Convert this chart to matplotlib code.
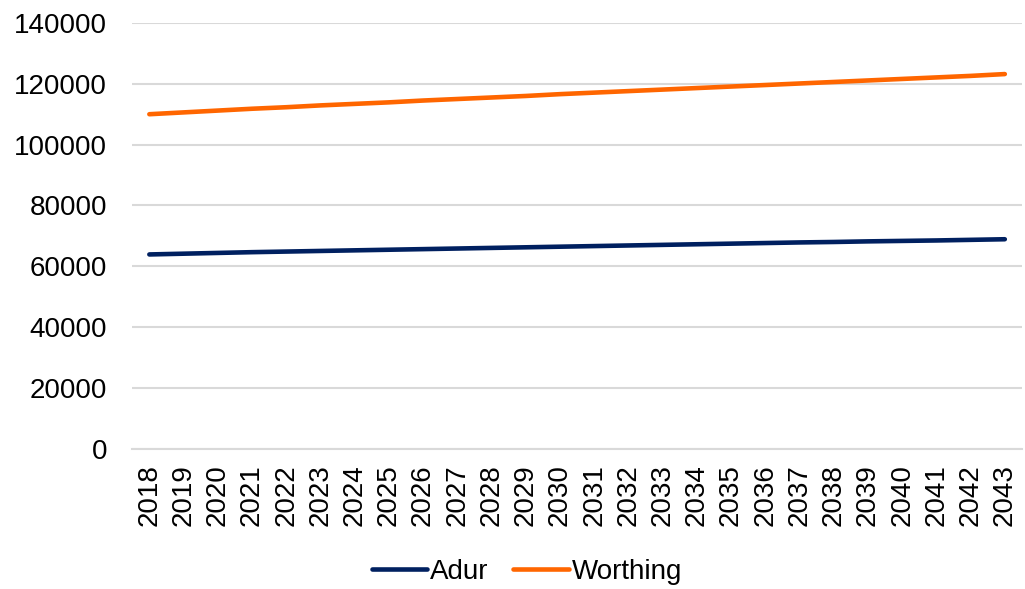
import matplotlib.pyplot as plt
import numpy as np

plt.rcParams['font.family'] = ['Liberation Sans', 'DejaVu Sans']

years = [str(y) for y in range(2018, 2044)]
adur = [63900, 64150, 64400, 64650, 64850, 65050, 65250, 65450, 65650, 65850,
        66050, 66250, 66450, 66650, 66850, 67050, 67250, 67450, 67650, 67850,
        68000, 68200, 68350, 68500, 68700, 68900]
worthing = [110000, 110600, 111200, 111800, 112300, 112900, 113400, 113900, 114500, 115000,
            115500, 116000, 116600, 117100, 117600, 118100, 118600, 119100, 119600, 120100,
            120600, 121100, 121600, 122100, 122600, 123200]

fig = plt.figure(figsize=(10.25, 5.89), dpi=100)
ax = fig.add_axes([0.129, 0.238, 0.868, 0.723])

x = np.arange(len(years))
ax.plot(x, adur, color='#002060', lw=3.3, solid_capstyle='round', label='Adur')
ax.plot(x, worthing, color='#ff6600', lw=3.3, solid_capstyle='round', label='Worthing')

ax.set_xlim(-0.5, len(years) - 0.5)
ax.set_ylim(0, 140000)
ax.set_yticks(np.arange(0, 140001, 20000))
ax.set_xticks(x)
ax.set_xticklabels(years, rotation=90)
ax.tick_params(axis='both', length=0, labelsize=20, colors='black')
ax.tick_params(axis='y', pad=18)
ax.tick_params(axis='x', pad=11)

ax.grid(axis='y', color='#d9d9d9', lw=1.5)
ax.set_axisbelow(True)
for s in ['top', 'right', 'left']:
    ax.spines[s].set_visible(False)
ax.spines['bottom'].set_color('#d9d9d9')
ax.spines['bottom'].set_linewidth(1.5)

fig.legend(loc='center', bbox_to_anchor=(0.514, 0.029), ncol=2, frameon=False,
           fontsize=20, handlelength=2.0, handletextpad=0.1, columnspacing=0.9,
           borderpad=0)

fig.savefig('out.png', dpi=100)
